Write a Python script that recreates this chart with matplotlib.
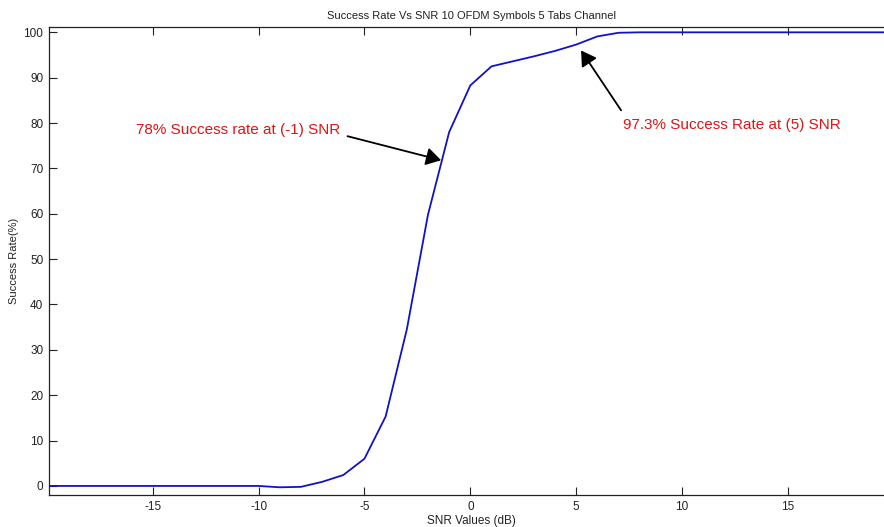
import matplotlib
matplotlib.use("Agg")
import matplotlib.pyplot as plt

plt.rcParams['font.family'] = ['Liberation Sans', 'DejaVu Sans']
plt.rcParams['axes.unicode_minus'] = False

# SNR sweep (dB) and measured success rate (%)
snr_db = [-20, -19, -18, -17, -16, -15, -14, -13, -12, -11, -10,
          -9, -8, -7, -6, -5, -4, -3, -2, -1, 0,
          1, 2, 3, 4, 5, 6, 7, 8, 9, 10,
          11, 12, 13, 14, 15, 16, 17, 18, 19, 20]
success_rate = [0, 0, 0, 0, 0, 0, 0, 0, 0, 0, 0,
                -0.3, -0.2, 0.9, 2.4, 6.0, 15.3, 34.5, 59.8, 78.0, 88.3,
                92.5, 93.6, 94.7, 95.9, 97.3, 99.1, 99.9, 100, 100, 100,
                100, 100, 100, 100, 100, 100, 100, 100, 100, 100]

x_ticks = [-15, -10, -5, 0, 5, 10, 15]
y_ticks = [0, 10, 20, 30, 40, 50, 60, 70, 80, 90, 100]

fig = plt.figure(figsize=(8.84, 5.27), dpi=100)
ax = fig.add_axes([0.0554, 0.0607, 0.9557, 0.8883])

ax.plot(snr_db, success_rate, color='#1212c4', lw=1.3)

ax.set_xlim(-19.9, 20)
ax.set_ylim(-2, 101.2)
ax.set_xticks(x_ticks)
ax.set_yticks(y_ticks)
ax.tick_params(direction='in', length=5.5, width=0.8, labelsize=8.5,
               colors='#222222', top=True, right=True, pad=4)
for s in ax.spines.values():
    s.set_linewidth(0.9)
    s.set_color('#222222')

ax.set_title('Success Rate Vs SNR 10 OFDM Symbols 5 Tabs Channel',
             fontsize=8, color='#222222', pad=6)
ax.set_xlabel('SNR Values (dB)', fontsize=8.5, color='#222222', labelpad=2)
ax.set_ylabel('Success Rate(%)', fontsize=8, color='#222222', labelpad=3)

red = '#dd1515'
ax.annotate('', xy=(-1.38, 71.8), xytext=(-5.8, 77.1),
            arrowprops=dict(arrowstyle='-|>,head_length=0.5,head_width=0.3',
                            color='k', lw=1.3,
                            mutation_scale=18, shrinkA=0, shrinkB=0))
ax.text(-6.15, 78.4, '78% Success rate at (-1) SNR', color=red,
        fontsize=11, ha='right', va='center')

ax.annotate('', xy=(5.23, 96.0), xytext=(7.12, 82.8),
            arrowprops=dict(arrowstyle='-|>,head_length=0.5,head_width=0.3',
                            color='k', lw=1.3,
                            mutation_scale=18, shrinkA=0, shrinkB=0))
ax.text(7.2, 79.5, '97.3% Success Rate at (5) SNR', color=red,
        fontsize=11, ha='left', va='center')

fig.savefig('out.png', dpi=100)
